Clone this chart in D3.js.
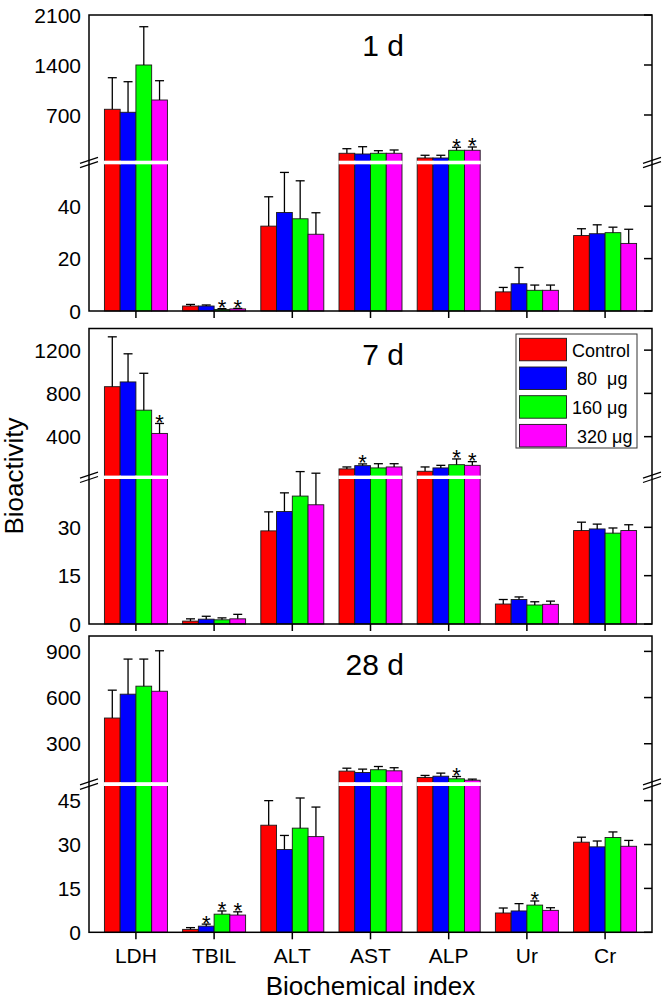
<!DOCTYPE html>
<html><head><meta charset="utf-8">
<script src="https://cdn.jsdelivr.net/npm/d3@7"></script>
<style>
body{margin:0;background:#fff}
text{font-family:"Liberation Sans",Arial,Helvetica,sans-serif;fill:#000}
</style>
</head><body>
<svg id="chart" width="666" height="1002"></svg>
<script>
const categories = ["LDH","TBIL","ALT","AST","ALP","Ur","Cr"];
const groups = ["Control"," 80  μg","160 μg"," 320 μg"];
const colors = ["#ff0000","#0000ff","#00ff00","#ff00ff"];
const panelLabels = ["1 d","7 d","28 d"];

// Day 1: rows = groups (Control, 80, 160, 320), cols = categories
const mean1d = [
  [780, 1.9, 32.4, 164, 98, 7.3, 28.8],
  [738, 1.9, 37.6, 154, 98, 10.4, 29.5],
  [1400, 0.6, 35.2, 164, 206, 7.9, 29.9],
  [910, 0.8, 29.3, 164, 206, 7.9, 25.8]
];
const sd1d = [
  [442, 0.6, 11.2, 64, 38, 1.7, 2.6],
  [428, 0.4, 15.3, 102, 38, 6.2, 3.4],
  [536, 0.3, 14.5, 36, 42, 2.0, 2.1],
  [270, 0.2, 8.2, 46, 46, 2.0, 5.4]
];
const stars1d = [["TBIL",2],["TBIL",3],["ALP",2],["ALP",3]];

// Day 7
const mean7d = [
  [862, 0.9, 28.9, 102, 80, 6.2, 29.0],
  [906, 1.5, 34.9, 132, 111, 7.6, 29.5],
  [645, 1.3, 39.7, 111, 141, 5.9, 28.2],
  [430, 1.6, 37.0, 120, 135, 6.1, 29.0]
];
const sd7d = [
  [461, 0.7, 5.9, 18, 40, 1.4, 2.6],
  [260, 0.9, 5.8, 16, 24, 0.8, 1.5],
  [341, 0.6, 7.6, 39, 53, 1.0, 1.6],
  [92, 1.4, 9.8, 30, 34, 1.0, 1.8]
];
const stars7d = [["LDH",3],["AST",1],["ALP",2],["ALP",3]];

// Day 28
const mean28d = [
  [467, 1.0, 36.6, 122, 81, 6.6, 30.8],
  [622, 2.1, 28.3, 113, 89, 7.3, 29.2],
  [674, 6.2, 35.6, 131, 72, 9.3, 32.4],
  [641, 5.9, 32.7, 124, 63, 7.5, 29.4]
];
const sd28d = [
  [181, 0.6, 8.4, 19, 13, 1.7, 1.7],
  [228, 0.7, 4.8, 22, 20, 2.5, 2.0],
  [176, 1.1, 10.3, 21, 15, 1.4, 1.9],
  [263, 1.1, 10.1, 20, 7, 0.9, 2.0]
];
const stars28d = [["TBIL",1],["TBIL",2],["TBIL",3],["ALP",2],["Ur",2]];

// broken y-axis domains and ticks
const lowerDomain1d = [0, 56],  upperDomain1d = [60, 2100];
const lowerDomain7d = [0, 45],  upperDomain7d = [40, 1400];
const lowerDomain28d = [0, 50], upperDomain28d = [50, 1000];
const lowerTicks1d = [0, 20, 40],      upperTicks1d = [700, 1400, 2100];
const lowerTicks7d = [0, 15, 30],      upperTicks7d = [400, 800, 1200];
const lowerTicks28d = [0, 15, 30, 45], upperTicks28d = [300, 600, 900];

const panels = [
  {label: panelLabels[0], mean: mean1d, sd: sd1d, stars: stars1d, lowD: lowerDomain1d, upD: upperDomain1d,
   lowT: lowerTicks1d, upT: upperTicks1d, top: 15, bottom: 311, lowTop: 164.3, upBottom: 160.7},
  {label: panelLabels[1], mean: mean7d, sd: sd7d, stars: stars7d, lowD: lowerDomain7d, upD: upperDomain7d,
   lowT: lowerTicks7d, upT: upperTicks7d, top: 328.5, bottom: 624, lowTop: 479, upBottom: 475.6},
  {label: panelLabels[2], mean: mean28d, sd: sd28d, stars: stars28d, lowD: lowerDomain28d, upD: upperDomain28d,
   lowT: lowerTicks28d, upT: upperTicks28d, top: 636, bottom: 932.3, lowTop: 786, upBottom: 782.2}
];

const left = 89, right = 652;
const svg = d3.select("#chart");

const x = d3.scalePoint().domain(categories).range([left, right]).padding(0.6);
const xg = d3.scaleBand().domain(d3.range(groups.length)).range([-31.5, 31.5]);

panels.forEach((p, pi) => {
  const g = svg.append("g");
  const yLow = d3.scaleLinear().domain(p.lowD).range([p.bottom, p.lowTop]);
  const yUp = d3.scaleLinear().domain(p.upD).range([p.upBottom, p.top]);
  const yv = v => v > p.lowD[1] ? yUp(v) : yLow(v);
  const breakY = (p.lowTop + p.upBottom) / 2;

  const data = [];
  categories.forEach((c, ci) => {
    groups.forEach((gr, gi) => {
      data.push({c, ci, gi, m: p.mean[gi][ci], s: p.sd[gi][ci]});
    });
  });

  // bars
  g.selectAll("rect.bar").data(data).join("rect")
    .attr("class", "bar")
    .attr("x", d => x(d.c) + xg(d.gi))
    .attr("width", xg.bandwidth())
    .attr("y", d => yv(d.m))
    .attr("height", d => yLow(0) - yv(d.m))
    .attr("fill", d => colors[d.gi])
    .attr("stroke", "#1a1a1a")
    .attr("stroke-width", 0.9);

  // white break stripes across bars crossing the break
  g.selectAll("rect.stripe").data(data.filter(d => d.m > p.lowD[1])).join("rect")
    .attr("x", d => x(d.c) + xg(d.gi) - 0.6)
    .attr("width", xg.bandwidth() + 1.2)
    .attr("y", p.upBottom)
    .attr("height", p.lowTop - p.upBottom)
    .attr("fill", "#fff");

  // error bars
  const eb = g.selectAll("g.err").data(data).join("g").attr("class", "err")
    .attr("stroke", "#000").attr("stroke-width", 1.3);
  const top = d => (d.m > p.lowD[1] ? yUp(d.m + d.s) : yLow(d.m + d.s));
  eb.append("line")
    .attr("x1", d => x(d.c) + xg(d.gi) + xg.bandwidth() / 2)
    .attr("x2", d => x(d.c) + xg(d.gi) + xg.bandwidth() / 2)
    .attr("y1", d => yv(d.m)).attr("y2", top);
  eb.append("line")
    .attr("x1", d => x(d.c) + xg(d.gi) + xg.bandwidth() / 2 - 4.5)
    .attr("x2", d => x(d.c) + xg(d.gi) + xg.bandwidth() / 2 + 4.5)
    .attr("y1", top).attr("y2", top);

  // significance stars
  g.selectAll("text.star").data(p.stars).join("text")
    .attr("x", s => x(s[0]) + xg(s[1]) + xg.bandwidth() / 2)
    .attr("y", s => {
      const ci = categories.indexOf(s[0]);
      const m = p.mean[s[1]][ci], sd = p.sd[s[1]][ci];
      return top({m, s: sd}) + 6.5;
    })
    .attr("text-anchor", "middle")
    .attr("font-size", 22)
    .text("*");

  // frame
  g.append("rect").attr("x", left).attr("y", p.top)
    .attr("width", right - left).attr("height", p.bottom - p.top)
    .attr("fill", "none").attr("stroke", "#000").attr("stroke-width", 1.5);

  // x ticks (outward, bottom)
  g.selectAll("line.xt").data(categories).join("line")
    .attr("x1", c => x(c)).attr("x2", c => x(c))
    .attr("y1", p.bottom).attr("y2", p.bottom + 7)
    .attr("stroke", "#000").attr("stroke-width", 1.5);

  // y ticks: labels on left, inward ticks on right
  const ticks = p.lowT.map(v => ({v, y: yLow(v)})).concat(p.upT.map(v => ({v, y: yUp(v)})));
  g.selectAll("text.yl").data(ticks).join("text")
    .attr("x", 81).attr("y", t => t.y).attr("dy", "0.36em")
    .attr("text-anchor", "end").attr("font-size", 21)
    .text(t => t.v);
  g.selectAll("line.yr").data(ticks).join("line")
    .attr("x1", right - 8).attr("x2", right)
    .attr("y1", t => t.y).attr("y2", t => t.y)
    .attr("stroke", "#000").attr("stroke-width", 1.5);

  // break marks
  [left, right].forEach(ax => {
    [-2.2, 2.2].forEach(off => {
      g.append("line")
        .attr("x1", ax - 9).attr("y1", breakY + off + 3)
        .attr("x2", ax + 9).attr("y2", breakY + off - 3)
        .attr("stroke", "#000").attr("stroke-width", 1.3);
    });
  });

  // panel title
  g.append("text").attr("x", 404).attr("y", [55.7, 365, 675][pi])
    .attr("text-anchor", "end").attr("font-size", 30).text(p.label);
});

// x category labels
svg.selectAll("text.xl").data(categories).join("text")
  .attr("x", c => x(c)).attr("y", 963)
  .attr("text-anchor", "middle").attr("font-size", 21).text(c => c);

// axis titles
svg.append("text").attr("x", (left + right) / 2).attr("y", 995)
  .attr("text-anchor", "middle").attr("font-size", 26).text("Biochemical index");
svg.append("text").attr("transform", "translate(23,476) rotate(-90)")
  .attr("text-anchor", "middle").attr("font-size", 26).text("Bioactivity");

// legend
const lg = svg.append("g");
lg.append("rect").attr("x", 516).attr("y", 334).attr("width", 121).attr("height", 114)
  .attr("fill", "#fff").attr("stroke", "#333").attr("stroke-width", 1);
const ly = d3.scaleLinear().domain([0, 1]).range([338.3, 367]);
lg.selectAll("rect.sw").data(groups).join("rect")
  .attr("x", 519.5).attr("y", (d, i) => ly(i)).attr("width", 47).attr("height", 22.5)
  .attr("fill", (d, i) => colors[i]).attr("stroke", "#1a1a1a").attr("stroke-width", 0.9);
lg.selectAll("text.lt").data(groups).join("text")
  .attr("x", 572).attr("y", (d, i) => ly(i) + 18.4)
  .attr("font-size", 18).style("white-space", "pre").text(d => d);
</script>
</body></html>
